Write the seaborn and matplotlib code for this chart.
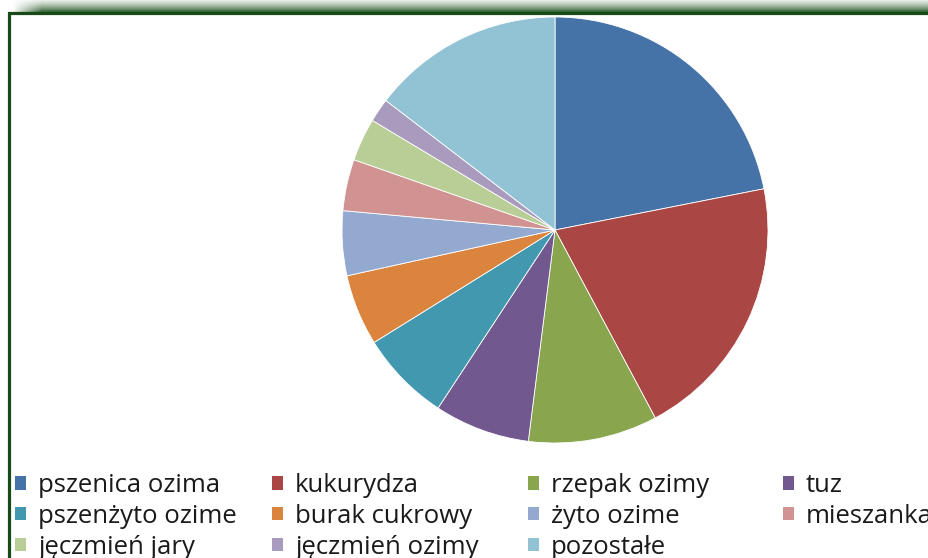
import numpy as np
import matplotlib
matplotlib.use("Agg")
import matplotlib.pyplot as plt
from matplotlib.patches import Patch, Rectangle
import seaborn as sns

# dane
crops = ["pszenica ozima", "kukurydza", "rzepak ozimy", "tuz",
         "pszenżyto ozime", "burak cukrowy", "żyto ozime", "mieszanka",
         "jęczmień jary", "jęczmień ozimy", "pozostałe"]
shares = [21.9, 20.3, 9.8, 7.25, 6.9, 5.4, 4.9, 3.9, 3.25, 1.8, 14.6]
colors = ["#4572A7", "#AA4643", "#89A54E", "#71588F", "#4198AF", "#DB843D",
          "#93A9CF", "#D19392", "#B9CD96", "#A99BBD", "#92C3D4"]

sns.set_theme(style="white")
plt.rcParams["font.family"] = ["Open Sans", "DejaVu Sans"]
palette = sns.color_palette(colors)

W, H = 929, 558
fig = plt.figure(figsize=(W / 100, H / 100), dpi=100)
fig.patch.set_facecolor("white")

# cień u góry ramki
sh = fig.add_axes([10 / W, 1 - 12 / H, 1 - 10 / W, 12 / H])
ny, nx = 12, 919
top = np.array([0.84, 0.88, 0.84])
bot = np.array([0.22, 0.40, 0.22])
t = np.linspace(0, 1, ny)[:, None]
rgb = top[None, :] * (1 - t) + bot[None, :] * t
img = np.ones((ny, nx, 4))
img[:, :, :3] = rgb[:, None, :]
fade = np.clip((np.arange(nx) - 2) / 30, 0, 1)
img[:, :, 3] = fade[None, :] * np.linspace(0.6, 1, ny)[:, None]
sh.imshow(img, aspect="auto", extent=[0, 1, 0, 1])
sh.axis("off")

# ramka
fig.patches.append(Rectangle((9.5 / W, -0.1), 1.2, 1 - 13 / H + 0.1,
                             transform=fig.transFigure, fill=False,
                             edgecolor="#174a17", linewidth=2.3, zorder=5))

# wykres kołowy
cx, cy, r = 555, 230, 213
ax = fig.add_axes([(cx - r) / W, (H - cy - r) / H, 2 * r / W, 2 * r / H])
ax.pie(shares, colors=palette, startangle=90, counterclock=False, radius=1,
       wedgeprops=dict(edgecolor="white", linewidth=0.6))
ax.set_xlim(-1, 1)
ax.set_ylim(-1, 1)
ax.set_aspect("equal")
ax.axis("off")

# legenda w 4 kolumnach (ostatnia ucięta przy prawej krawędzi, jak w oryginale)
cols_x = [15, 272, 528, 783]
for c, x0 in enumerate(cols_x):
    idx = list(range(c, len(crops), 4))
    handles = [Patch(facecolor=palette[i], edgecolor="none") for i in idx]
    labels = [crops[i] for i in idx]
    fig.legend(handles, labels, loc="upper left",
               bbox_to_anchor=(x0 / W, 1 - 473 / H),
               frameon=False, fontsize=18.5, handlelength=0.43, handleheight=0.43,
               handletextpad=0.47, labelspacing=0.23, borderpad=0,
               borderaxespad=0, labelcolor="#1a1a1a")

fig.savefig("out.png", dpi=100)
